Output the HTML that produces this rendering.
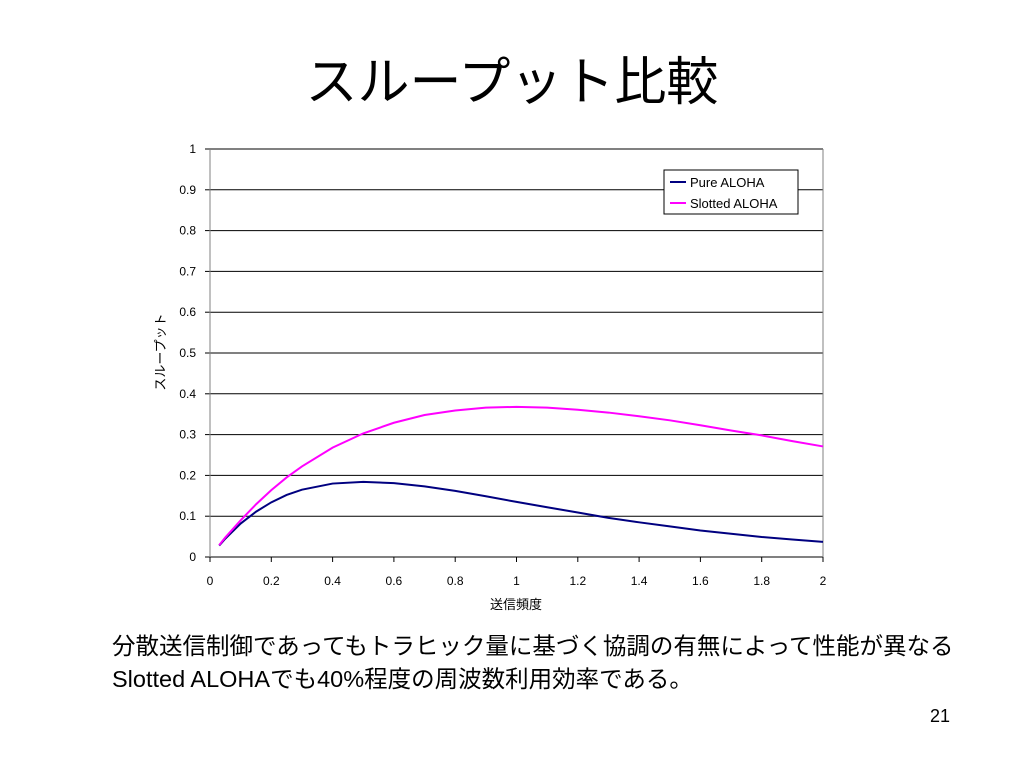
<!DOCTYPE html>
<html><head><meta charset="utf-8"><style>
body{margin:0;background:#fff;width:1024px;height:768px;overflow:hidden;font-family:"Liberation Sans","Noto Sans CJK JP",sans-serif}
.t{position:absolute}
</style></head><body>
<div class="t" style="left:0;width:1024px;top:40px;text-align:center;font-size:52px;">スループット比較</div>
<svg class="t" style="left:0;top:0" width="1024" height="768">
<g id="grid"></g><g id="axes"></g><g id="series"></g>
<text x="165" y="352" font-size="13" transform="rotate(-90 165 352)" text-anchor="middle" font-family="Liberation Sans, Noto Sans CJK JP, sans-serif">スループット</text>
<text x="516" y="609" font-size="13" text-anchor="middle" font-family="Liberation Sans, Noto Sans CJK JP, sans-serif">送信頻度</text>
<g>
<rect x="664" y="170" width="134" height="44" fill="#fff" stroke="#000" stroke-width="1"/>
<line x1="670" y1="182" x2="686" y2="182" stroke="#000080" stroke-width="2"/>
<text x="690" y="187" font-size="13" font-family="Liberation Sans, sans-serif">Pure ALOHA</text>
<line x1="670" y1="203" x2="686" y2="203" stroke="#ff00ff" stroke-width="2"/>
<text x="690" y="208" font-size="13" font-family="Liberation Sans, sans-serif">Slotted ALOHA</text>
</g>
</svg>
<div class="t" style="left:112px;top:630px;font-size:23.5px;line-height:33px;white-space:nowrap;">分散送信制御であってもトラヒック量に基づく協調の有無によって性能が異なる<br>Slotted ALOHAでも40%程度の周波数利用効率である。</div>
<div class="t" style="left:930px;top:706px;font-size:18px;">21</div>
<script>
const xs=[0.03,0.05,0.1,0.15,0.2,0.25,0.3,0.4,0.5,0.6,0.7,0.8,0.9,1.0,1.1,1.2,1.3,1.4,1.5,1.6,1.7,1.8,1.9,2.0];
const pure=[0.028,0.045,0.082,0.111,0.134,0.152,0.165,0.180,0.184,0.181,0.173,0.162,0.149,0.135,0.122,0.109,0.096,0.085,0.075,0.065,0.057,0.049,0.043,0.037];
const slotted=[0.029,0.048,0.090,0.129,0.164,0.195,0.222,0.268,0.303,0.329,0.348,0.359,0.366,0.368,0.366,0.361,0.354,0.345,0.335,0.323,0.310,0.298,0.284,0.271];
const yTicks=["0","0.1","0.2","0.3","0.4","0.5","0.6","0.7","0.8","0.9","1"];
const xTicks=["0","0.2","0.4","0.6","0.8","1","1.2","1.4","1.6","1.8","2"];
const X=v=>210+v/2*613, Y=v=>557-v*408;
const NS="http://www.w3.org/2000/svg";
function mk(t,a,p){const e=document.createElementNS(NS,t);for(const k in a)e.setAttribute(k,a[k]);p.appendChild(e);return e;}
const g=document.getElementById('grid'),ax=document.getElementById('axes'),s=document.getElementById('series');
yTicks.forEach(t=>{const v=parseFloat(t);
 const l=mk('line',{x1:210,x2:823,y1:Y(v),y2:Y(v),stroke:'#000','stroke-width':1},g);
 
 
 mk('line',{x1:205,x2:210,y1:Y(v),y2:Y(v),stroke:'#000'},ax);
 const tx=mk('text',{x:196,y:Y(v)+4,'font-size':12,'text-anchor':'end','font-family':'Liberation Sans, sans-serif'},ax);tx.textContent=t;
 
 });
xTicks.forEach(t=>{const v=parseFloat(t);
 mk('line',{x1:X(v),x2:X(v),y1:557,y2:562,stroke:'#000'},ax);
 const tx=mk('text',{x:X(v),y:585,'font-size':12,'text-anchor':'middle','font-family':'Liberation Sans, sans-serif'},ax);tx.textContent=t;
 
 });
mk('line',{x1:210,x2:210,y1:149,y2:557,stroke:'#808080'},ax);
mk('line',{x1:823,x2:823,y1:149,y2:557,stroke:'#808080'},ax);
[[pure,'#000080','pure-aloha-line'],[slotted,'#ff00ff','slotted-aloha-line']].forEach(([d,c,n])=>{
 const p=mk('polyline',{points:xs.map((x,i)=>X(x)+','+Y(d[i])).join(' '),fill:'none',stroke:c,'stroke-width':2},s);
 
 });
</script>
</body></html>
